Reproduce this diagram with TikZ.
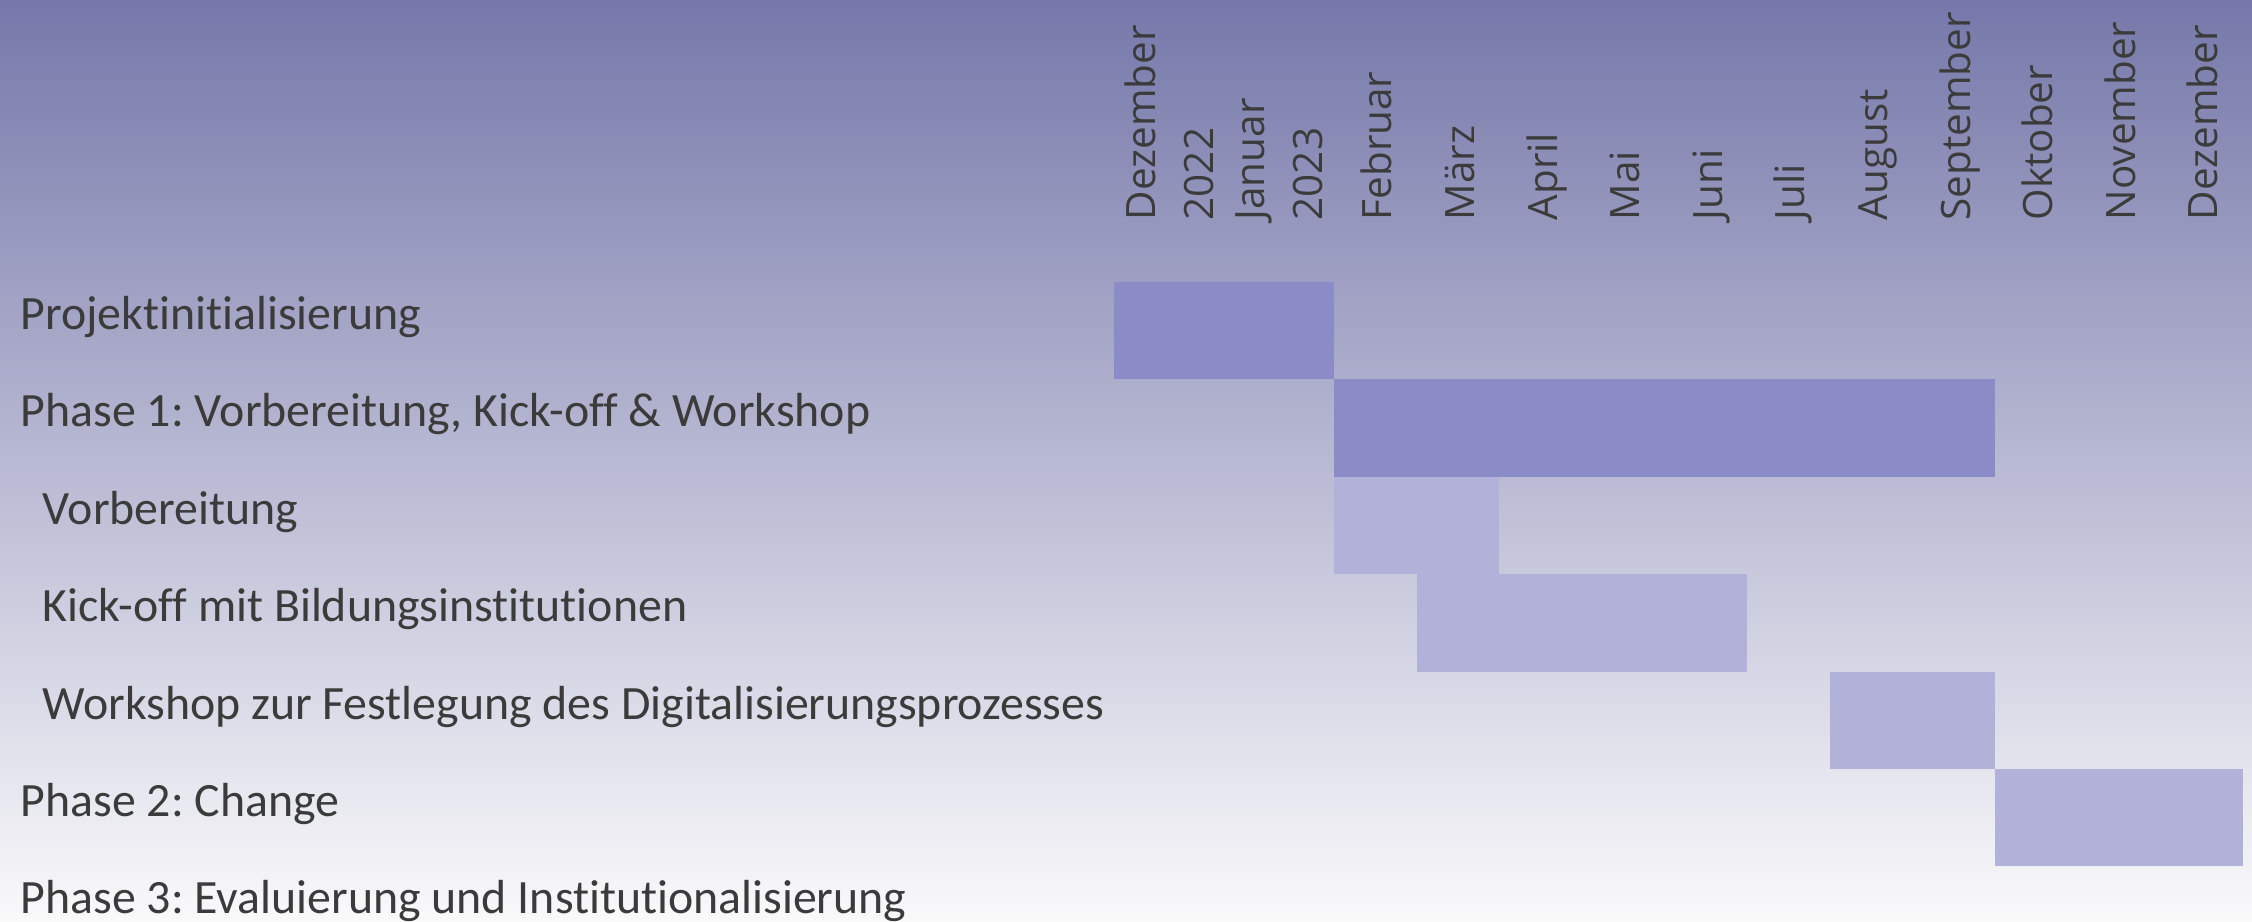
\documentclass[tikz,border=0pt]{standalone}
\usepackage{fontspec}
\setmainfont{Carlito}[Ligatures=NoCommon]
\newfontfamily\kopffont{Open Sans}
\frenchspacing

\definecolor{hgoben}{RGB}{118,120,170}
\definecolor{hgmitte}{RGB}{214,214,226}
\definecolor{hgunten}{RGB}{250,250,251}
\definecolor{balkendunkel}{RGB}{139,139,199}
\definecolor{balkenhell}{RGB}{177,177,217}
\definecolor{schrift}{RGB}{59,59,59}

\begin{document}
\begin{tikzpicture}[x=0.01cm,y=-0.01cm,
  zeile/.style={anchor=base west,inner sep=0pt,text=schrift,font=\fontsize{13.6}{16}\selectfont},
  monat/.style={rotate=90,inner sep=0pt,text=schrift,align=left,font=\kopffont\fontsize{11.5}{16.5}\selectfont},
  dunkel/.style={fill=balkendunkel},
  hell/.style={fill=balkenhell}]

% hintergrund
\shade[top color=hgoben,middle color=hgmitte,bottom color=hgunten] (0,0) rectangle (2252,922);
\useasboundingbox (0,0) rectangle (2252,922);

% monate
\node[monat,anchor=west] (dez22) at (1169,221) {Dezember\\2022};
\node[monat,anchor=west] (jan23) at (1279,221) {Januar\\2023};
\foreach \m [count=\i from 0] in {Februar,März,April,Mai,Juni,Juli,August,September,Oktober,November,Dezember}
  \node[monat,anchor=base west] (m\i) at ({1334+82.6*\i+57.8},221) {\m};

% balken
\fill[dunkel] (1114,282) rectangle (1334,379.4);
\fill[dunkel] (1334,379.4) rectangle (1994.8,476.8);
\fill[hell] (1334,476.8) rectangle (1499.2,574.2);
\fill[hell] (1416.6,574.2) rectangle (1747,671.6);
\fill[hell] (1829.6,671.6) rectangle (1994.8,769);
\fill[hell] (1994.8,769) rectangle (2242.6,866.4);

% zeilen
\node[zeile] (p0) at (20,329.5) {Projektinitialisierung};
\node[zeile] (p1) at (20,426.9) {Phase 1: Vorbereitung, Kick-off \& Workshop};
\node[zeile] (p1a) at (42,524.3) {Vorbereitung};
\node[zeile] (p1b) at (42,621.7) {Kick-off mit Bildungsinstitutionen};
\node[zeile] (p1c) at (42,719.1) {Workshop zur Festlegung des Digitalisierungsprozesses};
\node[zeile] (p2) at (20,816.5) {Phase 2: Change};
\node[zeile] (p3) at (20,913.9) {Phase 3: Evaluierung und Institutionalisierung};

\end{tikzpicture}
\end{document}
